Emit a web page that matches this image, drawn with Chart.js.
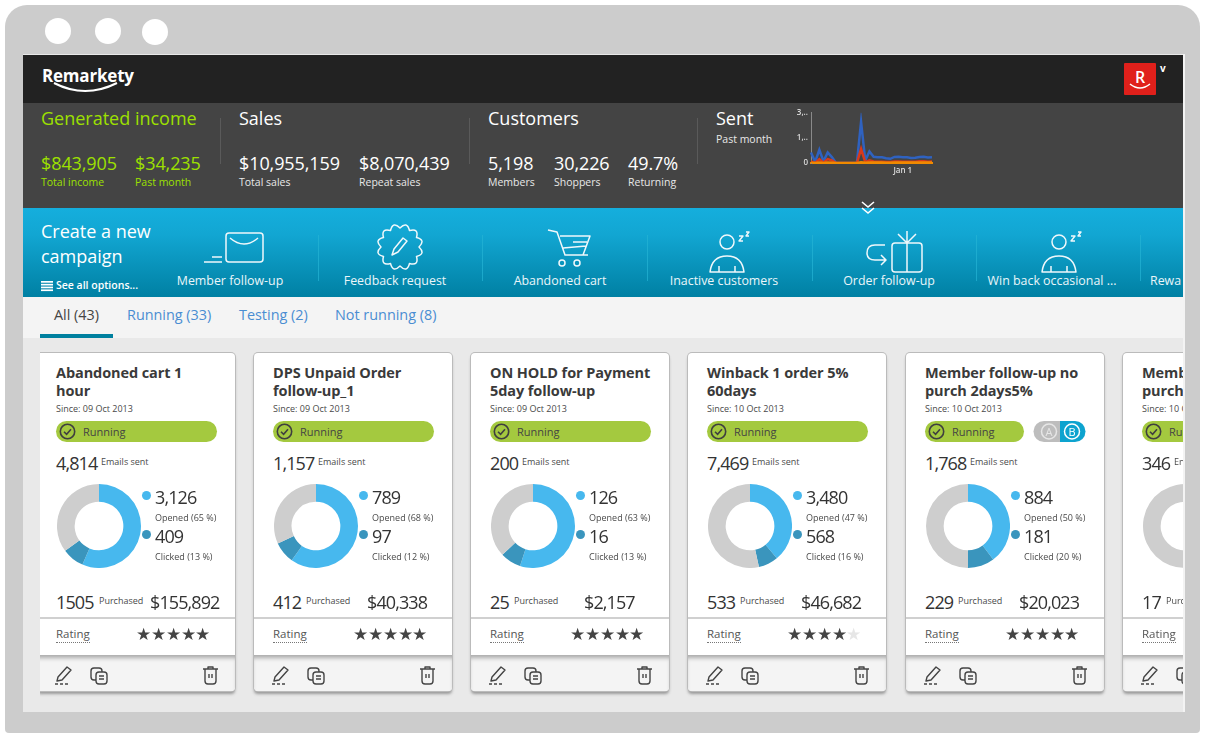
<!DOCTYPE html>
<html lang="en">
<head>
<meta charset="UTF-8">
<title>Remarkety dashboard</title>
<script src="https://cdn.jsdelivr.net/npm/chart.js@4.1.2/dist/chart.umd.min.js"></script>
<style>
  * { box-sizing: border-box; }
  body { margin: 0; background: #fff; font-family: "Open Sans", sans-serif; width: 1205px; height: 737px; overflow: hidden; position: relative; }
  .a { position: absolute; white-space: nowrap; line-height: 1; }
  #frame { position: absolute; left: 5px; top: 5px; width: 1195px; height: 728px; background: #ccc; border-radius: 22px 22px 4px 4px; }
  .hole { position: absolute; width: 26px; height: 26px; border-radius: 50%; background: #fff; }
  #screen { position: absolute; left: 23px; top: 54px; width: 1160px; height: 658px; background: #e9e9e9; overflow: hidden; box-shadow: 2px 0 0 #f3f3f3; }
  #topbar { position: absolute; left: 0; top: 1px; width: 100%; height: 48px; background: #222; }
  #stats { position: absolute; left: 0; top: 49px; width: 100%; height: 105px; background: #444; }
  #band { position: absolute; left: 0; top: 154px; width: 100%; height: 89px; background: linear-gradient(#15aedd, #12a6d2 30%, #0080a3); }
  #tabs { position: absolute; left: 0; top: 243px; width: 100%; height: 41px; background: #f4f4f4; }
  .sep { position: absolute; width: 1px; background: #5a5a5a; }
  .bsep { position: absolute; width: 1px; top: 27px; height: 46px; background: #25b4d4; opacity: .7; }
  .big { font-size: 18px; letter-spacing: -.1px; color: #fff; font-weight: 500; }
  .head { font-size: 18px; color: #fff; font-weight: 500; }
  .sub { font-size: 10.5px; color: #e8e8e8; font-weight: 500; }
  .g { color: #9de000; }
  .item { font-size: 12.4px; color: #eaf6fa; font-weight: 500; transform: translateX(-50%); }
  .tab { font-size: 14.4px; color: #4a8dd2; }
  .card { position: absolute; top: 299px; width: 198px; height: 338px; background: #fff; border-radius: 4px; box-shadow: 0 0 0 1px #bbb, 0 3px 3px #999; overflow: hidden; color: #3b3b3b; }
  .title { position: absolute; left: 19px; top: 11px; width: 176px; font-size: 14.5px; line-height: 18px; font-weight: 700; color: #3a3a3a; letter-spacing: -.1px; }
  .small { font-size: 9px; color: #4a4a4a; }
  .num { font-size: 18px; letter-spacing: -.9px; color: #333; }
  .pill { position: absolute; left: 19px; top: 68px; width: 161px; height: 21px; border-radius: 11px; background: #a4c93f; }
  .donut { position: absolute; left: 20px; top: 131px; width: 84px; height: 84px; }
  .dot { position: absolute; width: 9px; height: 9px; border-radius: 50%; }
  .foot { position: absolute; left: 0; top: 302px; width: 100%; height: 36px; background: #f4f4f4; box-shadow: inset 0 5px 4px -2px #aaa; }
  .hr { position: absolute; left: 0; top: 264px; width: 100%; height: 2px; background: #d0d0d0; }
  .rate { font-size: 11.5px; color: #555; border-bottom: 1px dotted #777; padding-bottom: 2px; }
  .stars { font-size: 17px; letter-spacing: -.3px; color: #444; }
  svg { position: absolute; overflow: visible; }
</style>
</head>
<body>
<div id="frame"></div>
<div class="hole" style="left:45px;top:18px"></div>
<div class="hole" style="left:95px;top:18px"></div>
<div class="hole" style="left:142px;top:19px"></div>

<div id="screen">
  <div id="topbar">
    <div class="a" style="left:19px;top:12px;font-size:17px;font-weight:700;color:#fff;letter-spacing:-.2px">Remarkety</div>
    <svg style="left:0;top:0" width="150" height="48"><path d="M31 28 Q62 44 94 28" fill="none" stroke="#fff" stroke-width="2"/></svg>
    <div class="a" style="left:1101px;top:8px;width:32px;height:32px;background:#e0201b;border-radius:1px;color:#fff;font-size:16px;font-weight:600;text-align:center;line-height:28px">R</div>
    <svg style="left:1101px;top:8px" width="32" height="32"><path d="M6 21 Q16 29 26 21" fill="none" stroke="#fff" stroke-width="1.6"/></svg>
    <div class="a" style="left:1137px;top:8px;font-size:10px;font-weight:700;color:#fff">v</div>
  </div>
  <div id="stats"></div>
  <div id="band"></div>
  <div id="tabs">
    <div class="a tab" style="left:31px;top:11px;color:#444">All (43)</div>
    <div class="a tab" style="left:104px;top:11px">Running (33)</div>
    <div class="a tab" style="left:216px;top:11px">Testing (2)</div>
    <div class="a tab" style="left:312px;top:11px">Not running (8)</div>
    <div class="a" style="left:17px;top:37px;width:73px;height:4px;background:#00809f"></div>
  </div>
  <div id="cards"></div>
</div>

<canvas id="sentChart" style="position:absolute;left:790px;top:105px;width:150px;height:80px" width="150" height="80"></canvas>
<svg style="left:0;top:0" width="1205" height="737" id="overlay"><path d="M862 202 L868 207 L874 202 M862 208 L868 213 L874 208" fill="none" stroke="#fff" stroke-width="1.6"/></svg>

<script>
// header numbers
const incomeValues = ['$843,905', '$34,235'];
const incomeLabels = ['Total income', 'Past month'];
const salesValues = ['$10,955,159', '$8,070,439'];
const salesLabels = ['Total sales', 'Repeat sales'];
const customerValues = ['5,198', '30,226', '49.7%'];
const customerLabels = ['Members', 'Shoppers', 'Returning'];

// sent chart
const sentDays = ['Dec 10','Dec 11','Dec 12','Dec 13','Dec 14','Dec 15','Dec 16','Dec 17','Dec 18','Dec 19','Dec 20','Dec 21','Dec 22','Dec 23','Dec 24','Dec 25','Dec 26','Dec 27','Dec 28','Dec 29','Dec 30','Dec 31','Jan 1','Jan 2','Jan 3','Jan 4','Jan 5','Jan 6','Jan 7','Jan 8'];
const sentBlue = [630,60,790,100,630,350,0,0,0,0,0,0,2460,150,690,370,350,340,280,250,360,370,350,340,300,310,360,370,330,350];
const sentRed = [100,10,230,20,230,150,0,0,0,0,0,0,850,50,160,90,80,70,60,60,90,90,80,70,70,80,110,100,80,90];
const sentOrange = [20,5,30,5,30,20,0,0,0,0,0,0,40,10,30,30,30,25,20,20,30,30,30,30,25,25,30,30,30,30];
const sentTicks = [0, 1500, 3000];

// campaign band
const campaignTypes = ['Member follow-up', 'Feedback request', 'Abandoned cart', 'Inactive customers', 'Order follow-up', 'Win back occasional ...'];

// campaign cards, the sixth is cut by the window so only its visible text is kept
const cardTitles = ['Abandoned cart 1<br>hour', 'DPS Unpaid Order<br>follow-up_1', 'ON HOLD for Payment<br>5day follow-up', 'Winback 1 order 5%<br>60days', 'Member follow-up no<br>purch 2days5%', 'Memb<br>purch'];
const cardSince = ['Since: 09 Oct 2013', 'Since: 09 Oct 2013', 'Since: 09 Oct 2013', 'Since: 10 Oct 2013', 'Since: 10 Oct 2013', 'Since: 10 O'];
const statusLabels = ['Running', 'Running', 'Running', 'Running', 'Running', 'Ru'];
const sentLabels = ['Emails sent', 'Emails sent', 'Emails sent', 'Emails sent', 'Emails sent', 'En'];
const purchasedLabels = ['Purchased', 'Purchased', 'Purchased', 'Purchased', 'Purchased', 'Purc'];
const emailsSent = [4814, 1157, 200, 7469, 1768, 346];
const emailsOpened = [3126, 789, 126, 3480, 884, 150];
const emailsClicked = [409, 97, 16, 568, 181, 20];
const openedPct = [65, 68, 63, 47, 50];
const clickedPct = [13, 12, 13, 16, 20];
const purchased = [1505, 412, 25, 533, 229, 17];
const revenue = ['$155,892', '$40,338', '$2,157', '$46,682', '$20,023'];
const ratings = [5, 5, 5, 4, 5];

const stats = document.getElementById('stats');
const band = document.getElementById('band');
const cards = document.getElementById('cards');

function put(parent, cls, left, top, text, extra) {
  const d = document.createElement('div');
  d.className = 'a ' + cls;
  d.style.left = left + 'px';
  d.style.top = top + 'px';
  if (extra) d.style.cssText += extra;
  d.innerHTML = text;
  parent.appendChild(d);
  return d;
}

// stats row
put(stats, 'head g', 18, 6, 'Generated income');
put(stats, 'head', 216, 6, 'Sales');
put(stats, 'head', 465, 6, 'Customers');
put(stats, 'head', 693, 6, 'Sent');
put(stats, 'sub', 693, 31, 'Past month');
[197, 446, 674].forEach(x => {
  const s = document.createElement('div');
  s.className = 'sep';
  s.style.cssText = 'left:' + x + 'px;top:15px;height:46px';
  stats.appendChild(s);
});
[18, 112].forEach((x, i) => {
  put(stats, 'big g', x, 51, incomeValues[i]);
  put(stats, 'sub g', x, 74, incomeLabels[i]);
});
[216, 336].forEach((x, i) => {
  put(stats, 'big', x, 51, salesValues[i]);
  put(stats, 'sub', x, 74, salesLabels[i]);
});
[465, 531, 605].forEach((x, i) => {
  put(stats, 'big', x, 51, customerValues[i]);
  put(stats, 'sub', x, 74, customerLabels[i]);
});

// blue band
put(band, 'head', 18, 14, 'Create a new');
put(band, 'head', 18, 39, 'campaign');
put(band, '', 33, 72, 'See all options...', 'font-size:10.5px;font-weight:600;color:#fff');
const itemCenters = [207, 372, 537, 701, 866, 1029];
campaignTypes.forEach((t, i) => put(band, 'item', itemCenters[i], 67, t));
put(band, 'item', 1127, 67, 'Rewa', 'transform:none');
[295, 459, 624, 789, 953, 1117].forEach(x => {
  const s = document.createElement('div');
  s.className = 'bsep';
  s.style.left = x + 'px';
  band.appendChild(s);
});

const sleeper = x => '<circle cx="' + x + '" cy="34" r="7"/><path d="M' + (x - 17) + ' 64 Q' + (x - 15) + ' 48 ' + x + ' 48 Q' + (x + 15) + ' 48 ' + (x + 17) + ' 64 Z M' + (x - 8) + ' 58 V64 M' + (x + 8) + ' 58 V64"/><path d="M' + (x + 12) + ' 28 h4 l-4 5 h4 M' + (x + 19) + ' 24 h3 l-3 4 h3" stroke-width="1.4"/>';

// scalloped edge of the feedback badge
let scallop = '';
for (let k = 0; k < 12; k++) {
  const a0 = k * Math.PI / 6, a1 = (k + .5) * Math.PI / 6, a2 = (k + 1) * Math.PI / 6;
  const pt = (a, r) => (377 + r * Math.cos(a)).toFixed(1) + ' ' + (39 + r * Math.sin(a)).toFixed(1);
  scallop += (k ? '' : 'M' + pt(a0, 19)) + ' Q' + pt(a1, 27) + ' ' + pt(a2, 19);
}

band.insertAdjacentHTML('beforeend', '<svg style="left:0;top:0" width="1160" height="89" fill="none" stroke="#f0f8fb" stroke-width="1.5" stroke-linejoin="round">'
  // member follow-up
  + '<rect x="203" y="25" width="37" height="29" rx="3"/><path d="M207 30 Q221 42 235 30"/><path d="M181 54 h18 M189 49 h10"/>'
  // feedback request
  + '<path d="' + scallop + ' Z"/><path d="M369 47 l2 -6 9 -11 4 3 -9 11 Z"/>'
  // cart
  + '<path d="M525 22 l9 2 l8 23 h23 M537 28 h30 l-7 19 M540 40 l23 -2 M550 34 h14"/><circle cx="539" cy="55" r="3"/><circle cx="554" cy="55" r="3"/>'
  // inactive
  + sleeper(704)
  // order follow-up
  + '<rect x="869" y="35" width="30" height="29" rx="3"/><path d="M884 35 V64 M884 35 V23 M884 35 L875 26 M884 35 L893 26"/><path d="M862 37 h-10 q-8 0 -8 8 q0 7 8 7 h10 M858 47 l5 5 -5 5"/>'
  + sleeper(1036)
  + '</svg>');
band.insertAdjacentHTML('beforeend', '<svg style="left:18px;top:73px" width="12" height="10" fill="#fff"><rect y="0" width="12" height="1.7"/><rect y="2.8" width="12" height="1.7"/><rect y="5.6" width="12" height="1.7"/><rect y="8.4" width="12" height="1.7"/></svg>');

const cardLefts = [14, 231, 448, 665, 883, 1100];
const checkIcon = '<svg style="left:3px;top:2px" width="17" height="17" fill="none" stroke="#3f3f3f" stroke-width="1.6"><circle cx="8.5" cy="8.5" r="7.2"/><path d="M5 8.7 l2.6 2.6 4.4 -5"/></svg>';
const toolIcons = '<svg style="left:0;top:0" width="198" height="36" fill="none" stroke="#444" stroke-width="1.4" stroke-linejoin="round">'
  + '<path d="M21 22 l9 -10 4 3 -9 10 -5 1 Z"/><path d="M18 29 h3 M23 29 h3 M28 29 h3" stroke-width="1.6"/>'
  + '<rect x="54" y="13" width="11" height="12" rx="3"/><rect x="59" y="17" width="11" height="12" rx="3" fill="#f4f4f4"/><path d="M62 21 h5 M62 24 h5"/>'
  + '<path d="M166 14 h15 M171 14 v-2 h5 v2 M168 14 v12 q0 3 3 3 h5 q3 0 3 -3 v-12 M172 19 v4 M175 19 v4"/></svg>';

// doughnut cards, drawn from the arrays
cardTitles.forEach((title, i) => {
  const c = document.createElement('div');
  c.className = 'card';
  c.style.left = cardLefts[i] + 'px';
  // the first card starts a little under the window edge
  if (i === 0) c.style.clipPath = 'inset(-6px -6px -6px 3px)';
  const pillWidth = i === 4 ? 99 : 161;
  c.innerHTML = '<div class="title">' + title + '</div>'
    + '<div class="pill" style="width:' + pillWidth + 'px">' + checkIcon + '<div class="a" style="left:27px;top:5px;font-size:11px;color:#444">' + statusLabels[i] + '</div></div>'
    + '<div class="donut"><canvas id="donut' + i + '" width="84" height="84"></canvas></div>'
    + '<div class="hr"></div><div class="foot">' + toolIcons + '</div>';
  cards.appendChild(c);
  put(c, 'small', 19, 51, cardSince[i]);
  const e = put(c, 'num', 19, 101, emailsSent[i].toLocaleString('en-US'));
  put(c, 'small', 19 + e.offsetWidth + 4, 104, sentLabels[i]);
  const p = put(c, 'num', 19, 240, String(purchased[i]));
  put(c, 'small', 19 + p.offsetWidth + 5, 243, purchasedLabels[i]);
  put(c, 'rate', 19, 275, 'Rating');

  // the rest of the sixth card is outside the window
  if (i < 5) {
    c.insertAdjacentHTML('beforeend', '<div class="dot" style="left:105px;top:138px;background:#47b8ee"></div><div class="dot" style="left:105px;top:177px;background:#3a95bd"></div>');
    put(c, 'num', 118, 135, emailsOpened[i].toLocaleString('en-US'));
    put(c, 'small', 118, 160, 'Opened (' + openedPct[i] + ' %)');
    put(c, 'num', 118, 174, emailsClicked[i].toLocaleString('en-US'));
    put(c, 'small', 118, 199, 'Clicked (' + clickedPct[i] + ' %)');
    put(c, 'num', 113, 240, revenue[i]);
    const stars = '★'.repeat(ratings[i]) + '<span style="color:#e6e6e6">' + '★'.repeat(5 - ratings[i]) + '</span>';
    put(c, 'stars', 0, 272, stars, 'left:auto;right:25px');
  }

  new Chart(document.getElementById('donut' + i), {
    type: 'doughnut',
    data: {
      datasets: [{
        data: [emailsOpened[i] - emailsClicked[i], emailsClicked[i], emailsSent[i] - emailsOpened[i]],
        backgroundColor: ['#47b8ee', '#3a95bd', '#cecece'],
        borderWidth: 0
      }]
    },
    options: {
      responsive: false,
      animation: false,
      cutout: '58%',
      plugins: { legend: { display: false }, tooltip: { enabled: false } }
    }
  });
});

// A/B badge on the fifth card
cards.children[4].insertAdjacentHTML('beforeend',
  '<svg style="left:128px;top:68px" width="52" height="21"><path d="M10 0 H26 V21 H10 A10 10 0 0 1 10 0 Z" fill="#bdbdbd"/><path d="M26 0 H41 A10 10 0 0 1 41 21 H26 Z" fill="#0da3cf"/>'
  + '<circle cx="15" cy="10.5" r="7.5" fill="none" stroke="#e6e6e6" stroke-width="1.5"/><circle cx="38" cy="10.5" r="7.5" fill="none" stroke="#fff" stroke-width="1.5"/>'
  + '<text x="15" y="14.5" font-size="11" text-anchor="middle" fill="#e6e6e6">A</text><text x="38" y="14.5" font-size="11" text-anchor="middle" fill="#fff">B</text></svg>');

// sent line chart
new Chart(document.getElementById('sentChart'), {
  type: 'line',
  data: {
    labels: sentDays,
    datasets: [
      { data: sentOrange, borderColor: '#f08a00', borderWidth: 2.5, order: 1 },
      { data: sentRed, borderColor: '#d83a1c', borderWidth: 2.5, order: 2 },
      { data: sentBlue, borderColor: '#2f62c0', borderWidth: 2.5, order: 3 }
    ]
  },
  options: {
    responsive: false,
    animation: false,
    elements: { point: { radius: 0 }, line: { tension: 0 } },
    layout: { padding: { top: 5, right: 8, left: 0, bottom: 0 } },
    plugins: { legend: { display: false }, tooltip: { enabled: false } },
    scales: {
      x: {
        grid: { display: false, drawTicks: false },
        border: { color: '#f08a00', width: 2 },
        afterFit: s => { s.height = 22; },
        ticks: {
          autoSkip: false, maxRotation: 0, padding: 3,
          color: '#ddd', font: { family: 'Open Sans', size: 8, weight: '600' },
          callback: function (v) { const l = this.getLabelForValue(v); return l === 'Jan 1' ? l : ''; }
        }
      },
      y: {
        min: 0, max: 3000,
        grid: { display: false, drawTicks: false },
        border: { color: '#8a8a8a', width: 1 },
        afterFit: s => { s.width = 21; },
        afterBuildTicks: s => { s.ticks = sentTicks.map(v => ({ value: v })); },
        ticks: {
          padding: 3,
          color: '#ddd', font: { family: 'Open Sans', size: 8, weight: '600' },
          callback: v => v === 0 ? '0' : v.toLocaleString('en-US').slice(0, 2) + '..'
        }
      }
    }
  }
});
</script>
</body>
</html>
